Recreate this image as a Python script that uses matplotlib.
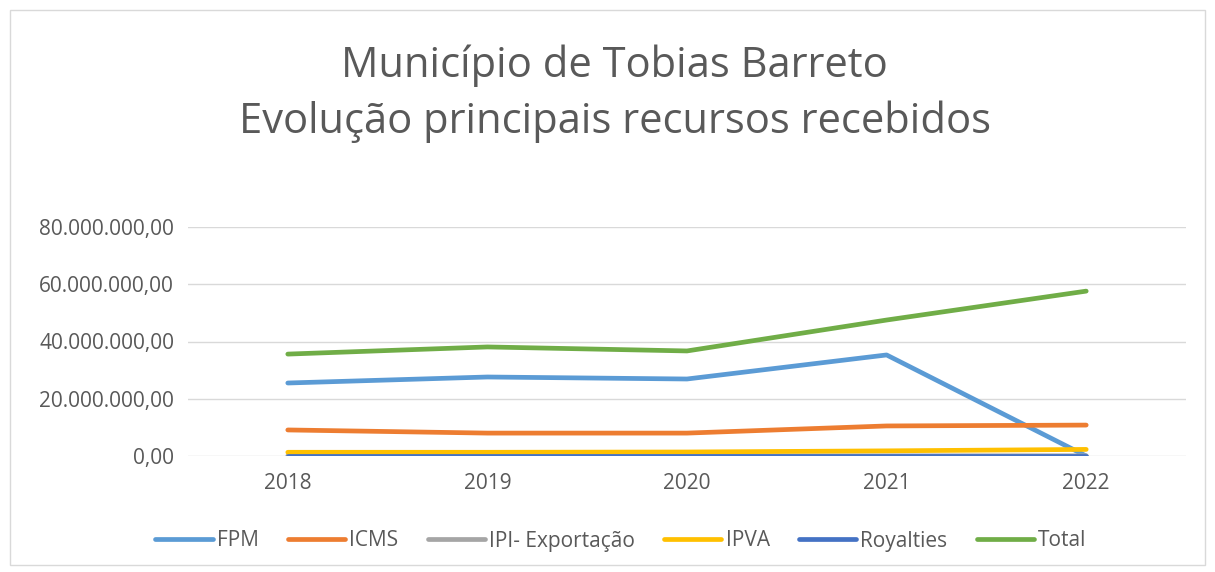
import matplotlib.pyplot as plt
from matplotlib.patches import Rectangle
from matplotlib.ticker import FuncFormatter

# Valores (R$)
anos = ['2018', '2019', '2020', '2021', '2022']
fpm = [25.5e6, 27.6e6, 26.9e6, 35.3e6, 0.0]
icms = [9.1e6, 8.0e6, 8.0e6, 10.5e6, 10.8e6]
ipi = [0.05e6, 0.05e6, 0.05e6, 0.06e6, 0.07e6]
ipva = [1.3e6, 1.3e6, 1.4e6, 1.8e6, 2.3e6]
royalties = [0.1e6, 0.1e6, 0.1e6, 0.1e6, 0.1e6]
total = [35.6e6, 38.1e6, 36.7e6, 47.5e6, 57.6e6]

series = [
    ('FPM', fpm, '#5B9BD5'),
    ('ICMS', icms, '#ED7D31'),
    ('IPI- Exportação', ipi, '#A5A5A5'),
    ('IPVA', ipva, '#FFC000'),
    ('Royalties', royalties, '#4472C4'),
    ('Total', total, '#70AD47'),
]

plt.rcParams['font.family'] = ['Open Sans', 'DejaVu Sans']
text_color = '#595959'

fig = plt.figure(figsize=(12.15, 5.72), dpi=100)
ax = fig.add_axes([188 / 1215, 1 - 456 / 572, (1186 - 188) / 1215, (456 - 227) / 572])

x = range(len(anos))
for nome, vals, cor in series:
    ax.plot(x, vals, color=cor, linewidth=3.4, label=nome, solid_capstyle='round')

ax.set_xlim(-0.5, len(anos) - 0.5)
ax.set_ylim(0, 80e6)
ax.set_yticks([0, 20e6, 40e6, 60e6, 80e6])
ax.yaxis.set_major_formatter(FuncFormatter(
    lambda v, p: f'{v:,.2f}'.replace(',', 'X').replace('.', ',').replace('X', '.')))
ax.set_xticks(list(x))
ax.set_xticklabels(anos)
ax.tick_params(axis='both', length=0, labelsize=15, colors=text_color)
ax.tick_params(axis='y', pad=10)
ax.tick_params(axis='x', pad=12)
ax.grid(axis='y', color='#d9d9d9', linewidth=1)
ax.set_axisbelow(True)
for s in ax.spines.values():
    s.set_visible(False)

fig.text(0.506, 1 - 66 / 572, 'Município de Tobias Barreto', ha='center', va='center',
         fontsize=30, color=text_color)
fig.text(0.506, 1 - 122 / 572, 'Evolução principais recursos recebidos', ha='center', va='center',
         fontsize=30, color=text_color)

fig.legend(loc='center', bbox_to_anchor=(0.511, 1 - 541 / 572), ncol=6, frameon=False,
           fontsize=15, labelcolor=text_color, handlelength=2.75, handletextpad=0.2,
           columnspacing=1.4)

fig.patches.append(Rectangle((10 / 1215, 7 / 572), 1195 / 1215, 555 / 572, transform=fig.transFigure,
                             fill=False, edgecolor='#d9d9d9', linewidth=1))

fig.savefig('out.png', dpi=100, facecolor='white')
